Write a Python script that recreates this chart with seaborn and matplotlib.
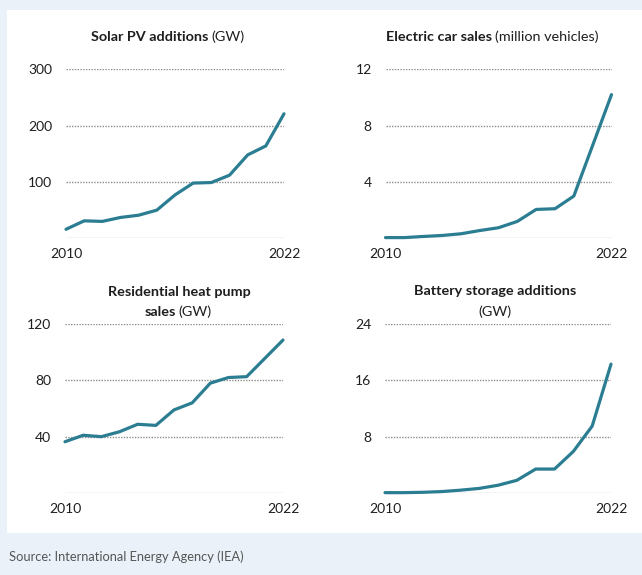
import matplotlib
matplotlib.use("Agg")
import matplotlib.pyplot as plt
from matplotlib.patches import Rectangle
import pandas as pd
import seaborn as sns

# ---- data -------------------------------------------------------------
years = list(range(2010, 2023))
solar_pv_gw = [16, 31, 30, 37, 41, 50, 77, 98, 99, 112, 148, 164, 221]
ev_sales_mn = [0.05, 0.05, 0.13, 0.2, 0.32, 0.55, 0.75, 1.2, 2.05, 2.1, 3.0, 6.6, 10.2]
heat_pump_gw = [36.4, 41, 40, 43.5, 48.8, 48, 59, 64, 78, 82, 82.6, 95.6, 108.6]
battery_gw = [0.05, 0.05, 0.1, 0.2, 0.4, 0.65, 1.1, 1.8, 3.4, 3.4, 5.9, 9.5, 18.3]

solar_ticks = [100, 200, 300]
ev_ticks = [4, 8, 12]
heat_ticks = [40, 80, 120]
battery_ticks = [8, 16, 24]
x_ticks = [2010, 2022]
x_tick_labels = ["2010", "2022"]
source_note = "Source: International Energy Agency (IEA)"

# ---- style ------------------------------------------------------------
sns.set_theme(style="white")
plt.rcParams["font.family"] = ["Lato", "DejaVu Sans"]

W, H = 642, 575
DPI = 100
LINE_COLOR = "#2b7d92"
TEXT_COLOR = "#1e1e1e"
BG = "#eaf1f8"

fig = plt.figure(figsize=(W / DPI, H / DPI), dpi=DPI, facecolor=BG)
# white card behind the four panels
fig.patches.append(Rectangle((7 / W, 1 - 533 / H), (W - 7) / W, (533 - 10) / H,
                             transform=fig.transFigure, facecolor="white",
                             edgecolor="none", zorder=-5))


def px_axes(left, right, top, bottom):
    ax = fig.add_axes([left / W, 1 - bottom / H, (right - left) / W, (bottom - top) / H])
    ax.set_zorder(2)
    return ax


def panel(ax, values, ticks):
    df = pd.DataFrame({"year": years, "value": values})
    sns.lineplot(data=df, x="year", y="value", ax=ax, color=LINE_COLOR,
                 linewidth=2.3, clip_on=False, zorder=3)
    ax.set_xlim(years[0], years[-1])
    ax.set_ylim(0, ticks[-1])
    ax.set_facecolor("none")
    for s in ax.spines.values():
        s.set_visible(False)
    ax.axhline(0, color="#c9c9c9", linewidth=1.0, zorder=1)
    for t in ticks:
        ax.axhline(t, color="#8c8c8c", linewidth=1.0, linestyle=(0, (1, 1)), zorder=1)
    ax.set_yticks(ticks)
    ax.set_yticklabels([str(t) for t in ticks])
    ax.set_xticks(x_ticks)
    ax.set_xticklabels(x_tick_labels)
    ax.tick_params(axis="y", length=0, pad=10, labelsize=10, labelcolor=TEXT_COLOR)
    ax.tick_params(axis="x", length=0, pad=7, labelsize=10, labelcolor=TEXT_COLOR)
    ax.set_xlabel("")
    ax.set_ylabel("")
    ax.grid(False)


ax1 = px_axes(66, 284, 69.3, 238.3)
ax2 = px_axes(385.5, 611.5, 69.3, 238.3)
ax3 = px_axes(65, 283, 324, 493)
ax4 = px_axes(385, 611, 324, 493)

panel(ax1, solar_pv_gw, solar_ticks)
panel(ax2, ev_sales_mn, ev_ticks)
panel(ax3, heat_pump_gw, heat_ticks)
panel(ax4, battery_gw, battery_ticks)

renderer = fig.canvas.get_renderer()


def title_line(cx, cy, bold, regular, size=10.4, gap=3.5):
    """One centred title line: a bold part followed by a regular part."""
    parts = []
    if bold:
        parts.append(fig.text(0, 0, bold, fontsize=size, fontweight="bold",
                              color=TEXT_COLOR, va="center", ha="left"))
    if regular:
        parts.append(fig.text(0, 0, regular, fontsize=size, color=TEXT_COLOR,
                              va="center", ha="left"))
    widths = [p.get_window_extent(renderer).width for p in parts]
    gap = gap if len(parts) == 2 else 0
    x = cx - (sum(widths) + gap) / 2
    for p, w in zip(parts, widths):
        p.set_position((x / W, 1 - cy / H))
        x += w + gap


title_line(168, 37, "Solar PV additions", "(GW)")
title_line(492, 37, "Electric car sales", "(million vehicles)")
title_line(179, 292, "Residential heat pump", "")
title_line(178, 312, "sales", "(GW)", gap=2.5)
title_line(495, 291, "Battery storage additions", "")
title_line(495, 312, "", "(GW)")

fig.text(9 / W, 1 - 557 / H, source_note, fontsize=9.3, color="#555555",
         va="center", ha="left")

fig.savefig("out.png", dpi=DPI, facecolor=BG)
